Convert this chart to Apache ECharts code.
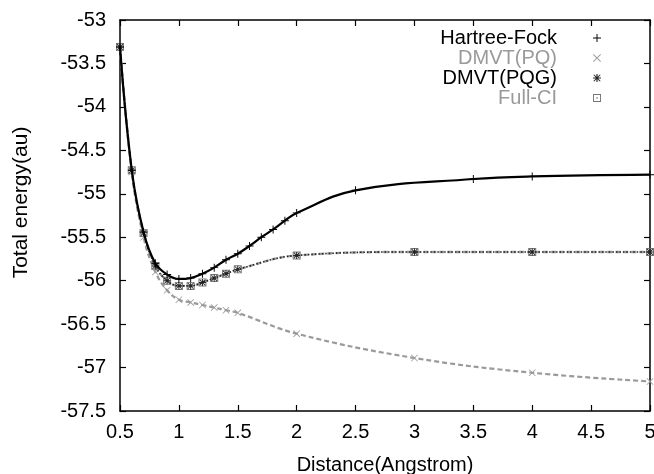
<!DOCTYPE html>
<html><head><meta charset="utf-8">
<script src="https://cdn.jsdelivr.net/npm/echarts@6/dist/echarts.min.js"></script>
<style>html,body{margin:0;padding:0;background:#fff}#c{width:654px;height:474px}</style>
</head><body><div id="c"></div>
<script>
const seriesNames = ['Hartree-Fock', 'DMVT(PQ)', 'DMVT(PQG)', 'Full-CI'];
const distHF = [0.5,0.6,0.7,0.8,0.9,1.0,1.1,1.2,1.3,1.4,1.5,1.6,1.7,1.8,1.9,2.0,2.5,3.5,4.0,5.0];
const energyHF = [-53.31,-54.73,-55.44,-55.80,-55.93,-55.98,-55.97,-55.92,-55.85,-55.76,-55.69,-55.60,-55.50,-55.41,-55.31,-55.22,-54.96,-54.83,-54.80,-54.78];
const distCorr = [0.5,0.6,0.7,0.8,0.9,1.0,1.1,1.2,1.3,1.4,1.5,2.0,3.0,4.0,5.0];
const energyPQ = [-53.32,-54.75,-55.50,-55.90,-56.11,-56.22,-56.25,-56.28,-56.31,-56.34,-56.37,-56.61,-56.89,-57.06,-57.16];
const energyPQG = [-53.31,-54.73,-55.45,-55.83,-56.00,-56.06,-56.06,-56.02,-55.97,-55.92,-55.87,-55.71,-55.67,-55.67,-55.67];
const energyFCI = [-53.31,-54.73,-55.45,-55.83,-56.00,-56.06,-56.06,-56.02,-55.97,-55.92,-55.87,-55.71,-55.67,-55.67,-55.67];
const xTicks = {min: 0.5, max: 5, step: 0.5};
const yTicks = {min: -57.5, max: -53, step: 0.5};

const pair = (xs, ys) => xs.map((x, i) => [x, ys[i]]);
const FONT = 'Liberation Sans, Arial, Helvetica, sans-serif';
const GRAY = '#9a9a9a';
const P_PLUS = 'path://M0,4.4H10V5.6H0Z M4.4,0H5.6V10H4.4Z';
const P_X = 'path://M0,0.8L0.8,0L10,9.2L9.2,10Z M9.2,0L10,0.8L0.8,10L0,9.2Z';
const P_STAR = 'path://M0,4.3H10V5.7H0Z M4.3,0H5.7V10H4.3Z M0.5,1.4L1.4,0.5L9.5,8.6L8.6,9.5Z M8.6,0.5L9.5,1.4L1.4,9.5L0.5,8.6Z';
const P_SQ = 'path://M0,0H10V10H0Z M1.2,1.2V8.8H8.8V1.2Z M4.2,4.2H5.8V5.8H4.2Z';

const chart = echarts.init(document.getElementById('c'), null, {renderer: 'canvas'});
const axisCommon = {
  type: 'value',
  axisLine: {show: true, onZero: false, lineStyle: {color: '#000', width: 1.5}},
  axisTick: {show: true, inside: true, length: 6, lineStyle: {color: '#000', width: 1.2}},
  splitLine: {show: false}
};
chart.setOption({
  animation: false,
  backgroundColor: '#fff',
  grid: {left: 120, right: 4, top: 20, bottom: 63, containLabel: false, outerBoundsMode: 'none'},
  legend: {
    orient: 'vertical', right: 48, top: 23, align: 'right',
    itemWidth: 70, itemHeight: 8, itemGap: 0,
    textStyle: {fontFamily: FONT, fontSize: 20, lineHeight: 20},
    data: [
      {name: seriesNames[0], icon: P_PLUS, textStyle: {color: '#000'}},
      {name: seriesNames[1], icon: P_X, textStyle: {color: GRAY}},
      {name: seriesNames[2], icon: P_STAR, textStyle: {color: '#000'}},
      {name: seriesNames[3], icon: P_SQ, textStyle: {color: GRAY}}
    ]
  },
  xAxis: [
    Object.assign({}, axisCommon, {
      position: 'bottom', min: xTicks.min, max: xTicks.max, interval: xTicks.step,
      name: 'Distance(Angstrom)', nameLocation: 'middle', nameGap: 44,
      nameTextStyle: {fontFamily: FONT, fontSize: 20, color: '#000'},
      axisLabel: {fontFamily: FONT, fontSize: 20, color: '#000', margin: 11}
    }),
    Object.assign({}, axisCommon, {
      position: 'top', min: xTicks.min, max: xTicks.max, interval: xTicks.step,
      axisLabel: {show: false}
    })
  ],
  yAxis: [
    Object.assign({}, axisCommon, {
      position: 'left', min: yTicks.min, max: yTicks.max, interval: yTicks.step,
      name: 'Total energy(au)', nameLocation: 'middle', nameGap: 88,
      nameTextStyle: {fontFamily: FONT, fontSize: 21, color: '#000', padding: [0, 0, 0, 26]},
      axisLabel: {fontFamily: FONT, fontSize: 20, color: '#000', margin: 14}
    }),
    Object.assign({}, axisCommon, {
      position: 'right', min: yTicks.min, max: yTicks.max, interval: yTicks.step,
      axisLabel: {show: false}
    })
  ],
  series: [
    {
      name: seriesNames[0], type: 'line', xAxisIndex: 0, yAxisIndex: 0,
      data: pair(distHF, energyHF), smooth: 0.4,
      symbol: P_PLUS, symbolSize: 8, showAllSymbol: true,
      lineStyle: {color: '#000', width: 2.2}, itemStyle: {color: '#000'}, z: 4
    },
    {
      name: seriesNames[1], type: 'line', xAxisIndex: 0, yAxisIndex: 0,
      data: pair(distCorr, energyPQ), smooth: 0.4,
      symbol: P_X, symbolSize: 7, showAllSymbol: true,
      lineStyle: {color: GRAY, width: 2.2, type: [5, 3]}, itemStyle: {color: GRAY}, z: 3
    },
    {
      name: seriesNames[3], type: 'line', xAxisIndex: 0, yAxisIndex: 0,
      data: pair(distCorr, energyFCI), smooth: 0.4,
      symbol: P_SQ, symbolSize: 8, showAllSymbol: true,
      lineStyle: {color: GRAY, width: 2.4, type: [5, 3]}, itemStyle: {color: '#777'}, z: 2
    },
    {
      name: seriesNames[2], type: 'line', xAxisIndex: 0, yAxisIndex: 0,
      data: pair(distCorr, energyPQG), smooth: 0.4,
      symbol: P_STAR, symbolSize: 7, showAllSymbol: true,
      lineStyle: {color: '#222', width: 1.6, type: [1.5, 2]}, itemStyle: {color: '#222'}, z: 3
    }
  ]
});
</script></body></html>
